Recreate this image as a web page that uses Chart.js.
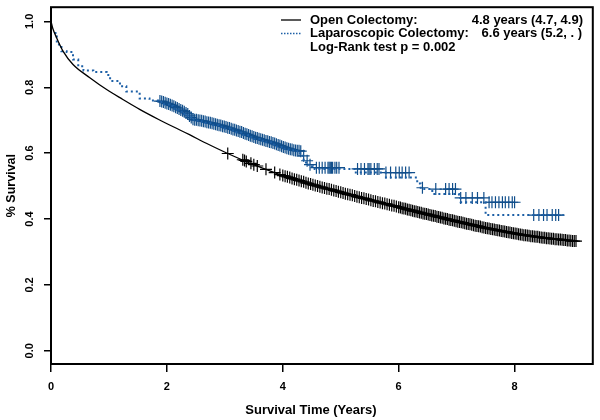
<!DOCTYPE html>
<html>
<head>
<meta charset="utf-8">
<script src="https://cdn.jsdelivr.net/npm/chart.js@4/dist/chart.umd.min.js"></script>
<style>
  html, body { margin: 0; padding: 0; background: #fff; }
  #wrap { width: 600px; height: 420px; }
</style>
</head>
<body>
<div id="wrap"><canvas id="chart" width="600" height="420"></canvas></div>
<script>
'use strict';

// Axes
const xTicks = [0, 2, 4, 6, 8];
const yTicks = [0, 0.2, 0.4, 0.6, 0.8, 1.0];
const xTitle = 'Survival Time (Years)';
const yTitle = '% Survival';

// Open colectomy KM curve
const openTime = [0, 0.03, 0.10, 0.21, 0.38, 0.67, 0.96, 1.24, 1.53, 1.85, 2.11, 2.39, 2.68, 3.05, 3.54, 4.0, 4.5, 5.0, 5.5, 6.0, 6.5, 7.0, 7.5, 8.0, 8.5, 9.0, 9.09];
const openSurv = [1.0, 0.979, 0.949, 0.909, 0.869, 0.829, 0.793, 0.763, 0.733, 0.703, 0.680, 0.656, 0.630, 0.599, 0.562, 0.532, 0.505, 0.481, 0.458, 0.436, 0.414, 0.393, 0.373, 0.356, 0.343, 0.333, 0.333];

// Open colectomy censored observations
const openCensTime = [3.05, 3.31, 3.34, 3.37, 3.45, 3.50, 3.56, 3.71, 3.86, 3.95,
  4.00, 4.04, 4.08, 4.12, 4.16, 4.20, 4.24, 4.28, 4.32, 4.36, 4.40, 4.44, 4.48, 4.52, 4.56, 4.60, 4.64, 4.68, 4.72, 4.76,
  4.80, 4.84, 4.88, 4.92, 4.96, 5.00, 5.04, 5.08, 5.12, 5.16, 5.20, 5.24, 5.28, 5.32, 5.36, 5.40, 5.44, 5.48, 5.52, 5.56,
  5.60, 5.64, 5.68, 5.72, 5.76, 5.80, 5.84, 5.88, 5.92, 5.96,
  6.00, 6.03, 6.06, 6.09, 6.12, 6.15, 6.18, 6.21, 6.24, 6.27, 6.30, 6.33, 6.36, 6.39, 6.42, 6.45, 6.48, 6.51, 6.54, 6.57,
  6.60, 6.63, 6.66, 6.69, 6.72, 6.75, 6.78, 6.81, 6.84, 6.87, 6.90, 6.93, 6.96, 6.99, 7.02, 7.05, 7.08, 7.11, 7.14, 7.17,
  7.20, 7.23, 7.26, 7.29, 7.32, 7.35, 7.38, 7.41, 7.44, 7.47, 7.50, 7.53, 7.56, 7.59, 7.62, 7.65, 7.68, 7.71, 7.74, 7.77,
  7.80, 7.83, 7.86, 7.89, 7.92, 7.95, 7.98, 8.01, 8.04, 8.07, 8.10, 8.13, 8.16, 8.19, 8.22, 8.25, 8.28, 8.31, 8.34, 8.37,
  8.40, 8.43, 8.46, 8.49, 8.52, 8.55, 8.58, 8.61, 8.64, 8.67, 8.70, 8.73, 8.76, 8.79, 8.82, 8.85, 8.88, 8.91, 8.94, 8.97,
  9.00, 9.03, 9.06];
const openCensSurv = [0.599, 0.580, 0.578, 0.575, 0.569, 0.565, 0.561, 0.551, 0.541, 0.535,
  0.532, 0.530, 0.528, 0.526, 0.523, 0.521, 0.519, 0.517, 0.515, 0.513, 0.510, 0.508, 0.506, 0.504, 0.502, 0.500, 0.498, 0.496, 0.494, 0.492,
  0.491, 0.489, 0.487, 0.485, 0.483, 0.481, 0.479, 0.477, 0.475, 0.474, 0.472, 0.470, 0.468, 0.466, 0.464, 0.463, 0.461, 0.459, 0.457, 0.455,
  0.454, 0.452, 0.450, 0.448, 0.447, 0.445, 0.443, 0.441, 0.440, 0.438,
  0.436, 0.435, 0.433, 0.432, 0.431, 0.429, 0.428, 0.427, 0.425, 0.424, 0.423, 0.421, 0.420, 0.419, 0.417, 0.416, 0.415, 0.414, 0.412, 0.411,
  0.410, 0.409, 0.407, 0.406, 0.405, 0.404, 0.402, 0.401, 0.400, 0.398, 0.397, 0.396, 0.395, 0.393, 0.392, 0.391, 0.390, 0.389, 0.387, 0.386,
  0.385, 0.384, 0.383, 0.381, 0.380, 0.379, 0.378, 0.377, 0.375, 0.374, 0.373, 0.372, 0.371, 0.370, 0.369, 0.368, 0.367, 0.366, 0.365, 0.364,
  0.363, 0.362, 0.361, 0.360, 0.359, 0.358, 0.357, 0.356, 0.355, 0.354, 0.353, 0.352, 0.351, 0.351, 0.350, 0.349, 0.348, 0.348, 0.347, 0.346,
  0.346, 0.345, 0.344, 0.343, 0.343, 0.342, 0.342, 0.341, 0.340, 0.340, 0.339, 0.339, 0.338, 0.338, 0.337, 0.336, 0.336, 0.335, 0.335, 0.334,
  0.333, 0.333, 0.333];

// Laparoscopic colectomy KM step curve
const lapTime = [0, 0.10, 0.18, 0.27, 0.38, 0.47, 0.56, 0.73, 0.96, 1.02, 1.19, 1.30, 1.53, 1.70, 1.85, 1.95, 2.05, 2.11, 2.20, 2.30, 2.36, 2.42, 2.46, 2.60, 2.75, 2.90, 3.00, 3.10, 3.20, 3.30, 3.40, 3.50, 3.60, 3.70, 3.80, 3.90, 4.00, 4.10, 4.20, 4.30, 4.36, 4.40, 4.47, 4.52, 4.55, 5.26, 5.78, 6.32, 6.38, 6.58, 7.04, 7.07, 7.50, 8.04, 8.85];
const lapSurv = [1.0, 0.965, 0.930, 0.909, 0.907, 0.884, 0.864, 0.851, 0.846, 0.837, 0.819, 0.803, 0.787, 0.766, 0.760, 0.755, 0.748, 0.743, 0.735, 0.726, 0.719, 0.708, 0.702, 0.698, 0.692, 0.685, 0.680, 0.675, 0.669, 0.663, 0.655, 0.649, 0.643, 0.638, 0.633, 0.626, 0.619, 0.613, 0.609, 0.606, 0.592, 0.577, 0.565, 0.560, 0.556, 0.552, 0.541, 0.526, 0.508, 0.491, 0.476, 0.464, 0.451, 0.412, 0.412];

// Laparoscopic colectomy censored observations
const lapCensTime = [1.88, 1.91, 1.94, 1.97, 2.00, 2.03, 2.06, 2.09, 2.12, 2.15, 2.18, 2.21, 2.24, 2.27, 2.30, 2.33, 2.36, 2.39, 2.42, 2.45,
  2.48, 2.51, 2.54, 2.57, 2.60, 2.63, 2.66, 2.69, 2.72, 2.75, 2.78, 2.81, 2.84, 2.87, 2.90, 2.93, 2.96, 2.99, 3.02, 3.05,
  3.08, 3.11, 3.14, 3.17, 3.20, 3.23, 3.26, 3.29, 3.32, 3.35, 3.38, 3.41, 3.44, 3.47, 3.50, 3.53, 3.56, 3.59, 3.62, 3.65,
  3.68, 3.71, 3.74, 3.77, 3.80, 3.83, 3.86, 3.89, 3.92, 3.95, 3.98, 4.01, 4.04, 4.07, 4.10, 4.13, 4.16, 4.19, 4.22, 4.25,
  4.28, 4.31, 4.36, 4.42, 4.47,
  4.58, 4.63, 4.68, 4.73, 4.78, 4.80, 4.82, 4.84, 4.86, 4.90, 4.93, 4.97,
  5.29, 5.35, 5.41, 5.47, 5.49, 5.52, 5.58, 5.63, 5.66,
  5.78, 5.86, 5.95, 6.01, 6.06, 6.12, 6.18, 6.41,
  6.64, 6.81, 6.87, 6.93, 6.98,
  7.07, 7.16, 7.27, 7.36, 7.47,
  7.56, 7.61, 7.67, 7.73, 7.79, 7.84, 7.90, 7.96, 8.00,
  8.33, 8.42, 8.50, 8.56, 8.65, 8.71, 8.76];
const lapCensSurv = [0.758, 0.757, 0.755, 0.753, 0.751, 0.749, 0.747, 0.745, 0.742, 0.739, 0.737, 0.734, 0.731, 0.729, 0.726, 0.722, 0.719, 0.713, 0.708, 0.703,
  0.701, 0.701, 0.700, 0.699, 0.698, 0.697, 0.696, 0.694, 0.693, 0.692, 0.691, 0.689, 0.688, 0.686, 0.685, 0.684, 0.682, 0.681, 0.679, 0.677,
  0.676, 0.674, 0.672, 0.671, 0.669, 0.667, 0.665, 0.664, 0.661, 0.659, 0.657, 0.655, 0.653, 0.651, 0.649, 0.647, 0.646, 0.644, 0.642, 0.641,
  0.639, 0.637, 0.636, 0.634, 0.633, 0.631, 0.629, 0.627, 0.625, 0.623, 0.621, 0.619, 0.617, 0.615, 0.613, 0.612, 0.611, 0.609, 0.608, 0.607,
  0.607, 0.606, 0.592, 0.577, 0.565,
  0.556, 0.556, 0.556, 0.556, 0.556, 0.556, 0.556, 0.556, 0.556, 0.556, 0.556, 0.556,
  0.552, 0.552, 0.552, 0.552, 0.552, 0.552, 0.552, 0.552, 0.552,
  0.541, 0.541, 0.541, 0.541, 0.541, 0.541, 0.541, 0.495,
  0.491, 0.491, 0.491, 0.491, 0.491,
  0.464, 0.464, 0.464, 0.464, 0.464,
  0.451, 0.451, 0.451, 0.451, 0.451, 0.451, 0.451, 0.451, 0.451,
  0.412, 0.412, 0.412, 0.412, 0.412, 0.412, 0.412];

// Legend text
const legendNames = ['Open Colectomy:', 'Laparoscopic Colectomy:'];
const legendMedians = ['4.8 years (4.7, 4.9)', '6.6 years (5.2, . )'];
const legendTest = 'Log-Rank test p = 0.002';

const black = '#000000';
const blueLine = '#1c5fa6';
const blueMark = '#104e8b';
const fontFamily = '"Liberation Sans", Arial, sans-serif';

function toPoints(xs, ys) {
  return xs.map((x, i) => ({ x: x, y: ys[i] }));
}

// Frame, rotated y labels, axis titles and the legend box text
const decorations = {
  id: 'decorations',
  afterDraw(chart) {
    const { ctx, chartArea } = chart;
    const yScale = chart.scales.y;
    ctx.save();
    ctx.strokeStyle = black;
    ctx.lineWidth = 2;
    ctx.strokeRect(chartArea.left, chartArea.top, chartArea.right - chartArea.left, chartArea.bottom - chartArea.top);

    ctx.fillStyle = black;
    ctx.font = 'bold 11px ' + fontFamily;
    ctx.textAlign = 'center';
    ctx.textBaseline = 'middle';
    yTicks.forEach((v) => {
      const py = yScale.getPixelForValue(v);
      ctx.save();
      ctx.translate(30, py);
      ctx.rotate(-Math.PI / 2);
      ctx.fillText(v.toFixed(1), 0, 0);
      ctx.restore();
    });

    ctx.font = 'bold 12.5px ' + fontFamily;
    ctx.save();
    ctx.translate(12, (chartArea.top + chartArea.bottom) / 2);
    ctx.rotate(-Math.PI / 2);
    ctx.fillText(yTitle, 0, 0);
    ctx.restore();
    ctx.font = 'bold 13px ' + fontFamily;
    ctx.textBaseline = 'alphabetic';
    ctx.fillText(xTitle, 311, 414);

    // legend
    ctx.lineWidth = 1.3;
    ctx.beginPath();
    ctx.moveTo(281, 20);
    ctx.lineTo(301, 20);
    ctx.stroke();
    ctx.strokeStyle = blueLine;
    ctx.lineWidth = 1.5;
    ctx.setLineDash([1.5, 1.5]);
    ctx.beginPath();
    ctx.moveTo(281, 33.5);
    ctx.lineTo(301, 33.5);
    ctx.stroke();
    ctx.setLineDash([]);

    ctx.textAlign = 'left';
    ctx.textBaseline = 'middle';
    ctx.fillText(legendNames[0], 310, 20);
    ctx.fillText(legendNames[1], 310, 33.5);
    ctx.fillText(legendTest, 310, 47);
    ctx.textAlign = 'right';
    ctx.fillText(legendMedians[0], 583, 20);
    ctx.fillText(legendMedians[1], 582, 33.5);
    ctx.restore();
  },
};

new Chart(document.getElementById('chart'), {
  type: 'scatter',
  data: {
    datasets: [
      {
        type: 'line',
        label: 'Open Colectomy',
        data: toPoints(openTime, openSurv),
        borderColor: black,
        borderWidth: 1.3,
        pointRadius: 0,
        cubicInterpolationMode: 'monotone',
        fill: false,
      },
      {
        label: 'Open censored',
        data: toPoints(openCensTime, openCensSurv),
        pointStyle: 'cross',
        pointRadius: 6,
        borderColor: black,
        borderWidth: 1.2,
        backgroundColor: black,
      },
      {
        type: 'line',
        label: 'Laparoscopic Colectomy',
        data: toPoints(lapTime, lapSurv),
        borderColor: blueLine,
        borderWidth: 2,
        borderDash: [2, 3],
        stepped: 'after',
        pointRadius: 0,
        fill: false,
      },
      {
        label: 'Laparoscopic censored',
        data: toPoints(lapCensTime, lapCensSurv),
        pointStyle: 'cross',
        pointRadius: 6,
        borderColor: blueMark,
        borderWidth: 1.2,
        backgroundColor: blueMark,
      },
    ],
  },
  options: {
    responsive: false,
    animation: false,
    events: [],
    layout: { padding: { top: 6, right: 6, left: 0, bottom: 0 } },
    plugins: {
      legend: { display: false },
      tooltip: { enabled: false },
    },
    scales: {
      x: {
        type: 'linear',
        min: 0,
        max: 9.35,
        afterBuildTicks: (scale) => { scale.ticks = xTicks.map((v) => ({ value: v })); },
        afterFit: (scale) => { scale.height = 56; },
        ticks: {
          color: black,
          font: { family: fontFamily, size: 11, weight: 'bold' },
          padding: 8,
          maxRotation: 0,
          autoSkip: false,
        },
        grid: { display: true, drawOnChartArea: false, drawTicks: true, tickLength: 8, color: black, lineWidth: 1.5 },
        border: { display: false },
      },
      y: {
        type: 'linear',
        min: -0.04,
        max: 1.043,
        afterBuildTicks: (scale) => { scale.ticks = yTicks.map((v) => ({ value: v })); },
        afterFit: (scale) => { scale.width = 51; },
        ticks: { display: false },
        grid: { display: true, drawOnChartArea: false, drawTicks: true, tickLength: 7, color: black, lineWidth: 1.5 },
        border: { display: false },
      },
    },
  },
  plugins: [decorations],
});
</script>
</body>
</html>
